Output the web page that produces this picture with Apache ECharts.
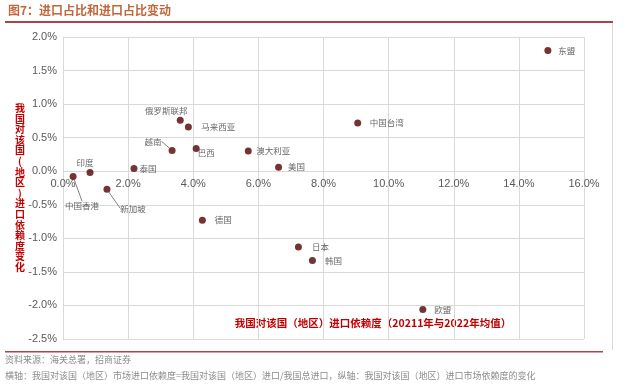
<!DOCTYPE html>
<html><head><meta charset="utf-8">
<script src="https://cdn.jsdelivr.net/npm/echarts@6/dist/echarts.min.js"></script>
<style>html,body{margin:0;padding:0;background:#fff}#c{width:640px;height:389px}</style>
</head><body><div id="c"></div>
<script>
const names = ['东盟','中国台湾','俄罗斯联邦','马来西亚','越南','巴西','澳大利亚','美国','泰国','印度','中国香港','新加坡','德国','日本','韩国','欧盟'];
const xValues = [14.89, 9.05, 3.60, 3.85, 3.35, 4.09, 5.69, 6.62, 2.18, 0.83, 0.31, 1.35, 4.28, 7.23, 7.66, 11.05];
const yValues = [1.80, 0.72, 0.76, 0.66, 0.31, 0.34, 0.30, 0.06, 0.04, -0.02, -0.08, -0.27, -0.73, -1.13, -1.33, -2.06];
const labelOffsets = [[19,0],[29,0],[-14,-9],[30,0],[-19,-9],[10,4],[25,0],[18,0],[14,0],[-5,-10],[9,29],[26,19],[21,0],[22,0],[21,0],[20,0]];
const leaderNames = ['越南','中国香港','新加坡'];
const xTicks = {min:0, max:16, interval:2};
const yTicks = {min:-2.5, max:2, interval:0.5};

const CJK = '"Noto Sans CJK SC", sans-serif';
const LAT = '"Liberation Sans", Arial, sans-serif';
const chart = echarts.init(document.getElementById('c'));
const data = names.map((n,i)=>{
  const item = {name:n, value:[xValues[i], yValues[i]],
    label:{show:true, position:'inside', offset:labelOffsets[i], formatter:n}};
  if (leaderNames.includes(n)) {
    item.labelLine = {show:true, lineStyle:{color:'#7f7f7f', width:1}};
  }
  return item;
});
const yName = '我国对该国(地区)进口依赖度变化'.split('').join('\n');
chart.setOption({
  animation:false,
  grid:{left:63, right:56, top:37, bottom:50},
  xAxis:{type:'value', min:xTicks.min, max:xTicks.max, interval:xTicks.interval,
    axisLine:{show:false, onZero:true},
    axisTick:{show:false},
    axisLabel:{formatter:v=>v.toFixed(1)+'%', color:'#595959', fontFamily:LAT, fontSize:11, margin:7},
    splitLine:{show:true, lineStyle:{color:'#d9d9d9'}}},
  yAxis:{type:'value', min:yTicks.min, max:yTicks.max, interval:yTicks.interval,
    axisLine:{show:true, onZero:false, lineStyle:{color:'#d9d9d9'}},
    axisTick:{show:false},
    axisLabel:{formatter:v=>v.toFixed(1)+'%', color:'#595959', fontFamily:LAT, fontSize:11, margin:6},
    splitLine:{show:true, lineStyle:{color:'#d9d9d9'}}},
  series:[{type:'scatter', symbolSize:7, data:data,
    itemStyle:{color:'#520000'},
    label:{color:'#404040', fontFamily:CJK, fontSize:8.5},
    labelLine:{show:false},
    labelLayout:{}
  }],
  graphic:[
    {type:'text', left:8, top:4, style:{text:'图7：进口占比和进口占比变动', fill:'#c0683c', font:'bold 12px '+CJK}},
    {type:'rect', shape:{x:5, y:21, width:608, height:2}, style:{fill:'#a8444c'}},
    {type:'line', shape:{x1:612.5, y1:23, x2:612.5, y2:350}, style:{stroke:'#d9d9d9', lineWidth:1}},
    {type:'rect', shape:{x:5, y:351, width:598, height:1.5}, style:{fill:'#a8444c'}},
    {type:'text', x:20, y:103, style:{text:yName, fill:'#c00000', font:'bold 10px '+CJK, lineHeight:10.6, align:'center', verticalAlign:'top'}},
    {type:'text', x:373, y:323, style:{text:'我国对该国（地区）进口依赖度（20211年与2022年均值）', fill:'#c00000', font:'bold 10.5px '+CJK, align:'center', verticalAlign:'middle'}},
    {type:'text', left:5, top:355, style:{text:'资料来源：海关总署，招商证券', fill:'#8c8c8c', font:'9px '+CJK}},
    {type:'text', left:5, top:371, style:{text:'横轴：我国对该国（地区）市场进口依赖度=我国对该国（地区）进口/我国总进口，纵轴：我国对该国（地区）进口市场依赖度的变化', fill:'#8c8c8c', font:'9px '+CJK}}
  ]
});
// place the x axis labels on the y = 0 line (through the library's own y scale)
const yBottom = chart.convertToPixel({yAxisIndex:0}, yTicks.min);
const yZero = chart.convertToPixel({yAxisIndex:0}, 0);
chart.setOption({xAxis:{offset: -(yBottom - yZero)}});
</script></body></html>
